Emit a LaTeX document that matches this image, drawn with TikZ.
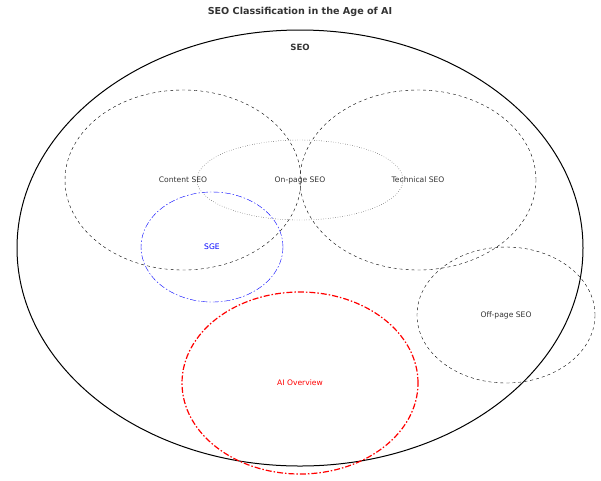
\documentclass[tikz,border=0pt]{standalone}
\usepackage{fontspec}
\setmainfont{DejaVu Sans}
\usetikzlibrary{shapes.geometric}
\begin{document}
\begin{tikzpicture}
        [x=1pt, y=-1pt,
        area/.style={ellipse, draw, inner sep=0pt, font=\fontsize{7.6}{9}\selectfont, text=black!80},
        dash dot/.style={dash pattern=on 6pt off 2pt on 1.5pt off 2pt}]

        \useasboundingbox (0, 0) rectangle (601, 480);

        \node[font=\bfseries\fontsize{9.6}{11}\selectfont, text=black!80] (title) at (300, 12) {SEO Classification in the Age of AI};

        \node[area, line width=1pt, minimum width=566pt, minimum height=436pt] (seo) at (300, 248) {};
        \node[font=\bfseries\fontsize{8.6}{10}\selectfont, text=black!80] (seolabel) at (300, 47) {SEO};

        \node[area, dashed, minimum width=236pt, minimum height=180pt] (content) at (183, 180) {Content SEO};
        \node[area, dashed, minimum width=236pt, minimum height=180pt] (technical) at (418, 180) {Technical SEO};
        \node[area, dotted, minimum width=206pt, minimum height=80pt] (onpage) at (300, 180) {On-page SEO};
        \node[area, dash dot, blue, text=blue, minimum width=142pt, minimum height=110pt] (sge) at (212, 247) {SGE};
        \node[area, dashed, minimum width=178pt, minimum height=136pt] (offpage) at (506, 315) {Off-page SEO};
        \node[area, dash dot, red, text=red, line width=1.2pt, minimum width=236pt, minimum height=182pt] (aioverview) at (300, 383) {AI Overview};

\end{tikzpicture}
\end{document}
